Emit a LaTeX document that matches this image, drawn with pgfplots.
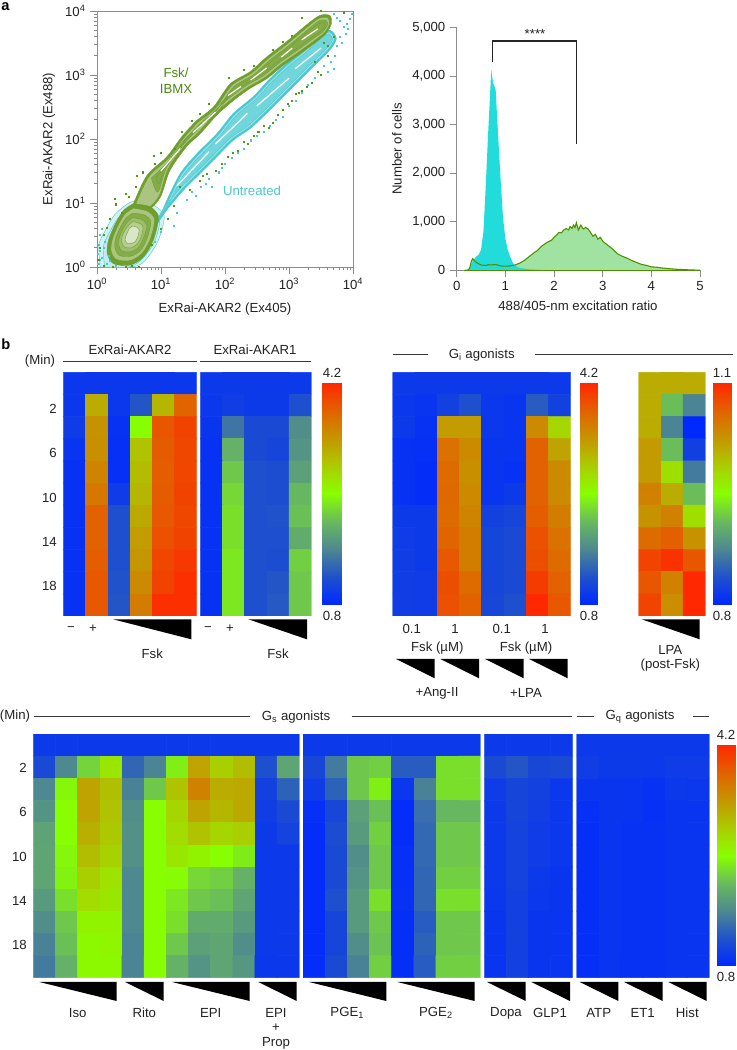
\documentclass[border=0pt]{standalone}
\usepackage{pgfplots}
\usepackage{pgfplotstable}
\usepackage{fontspec}
\setmainfont{Liberation Sans}
\pgfplotsset{compat=1.18}
\definecolor{txt}{HTML}{222222}
\definecolor{gax}{HTML}{8C8C8C}
\definecolor{gl}{HTML}{6F9E2E}
\definecolor{gf}{HTML}{84AC48}
\definecolor{gd}{HTML}{4F9A10}
\definecolor{tl}{HTML}{48C8D0}
\definecolor{tf}{HTML}{70D6DC}
\newcommand\F{\fontsize{9.9}{11}\selectfont}
\pgfplotsset{colormap={hm}{rgb255(0cm)=(0,40,255) rgb255(1.2cm)=(30,80,205) rgb255(2.5cm)=(78,136,144) rgb255(3.7cm)=(104,184,96) rgb255(5cm)=(136,255,0) rgb255(6cm)=(165,215,0) rgb255(7.5cm)=(197,150,0) rgb255(8.7cm)=(225,100,0) rgb255(10cm)=(255,40,0)}}
\pgfplotsset{
 pix/.style n args={4}{at={(#1*0.75pt,{(1050-#4)*0.75pt})},anchor=south west,scale only axis,width={(#3-#1)*0.75pt},height={(#4-#2)*0.75pt}},
 hm/.style n args={7}{pix={#1}{#2}{#3}{#4},hide axis,colormap name=hm,xmin=-0.5,xmax=#5-0.5,ymin=-0.5,ymax=10.5,y dir=reverse,point meta min=#6,point meta max=#7},
 hmp/.style={matrix plot*,mesh/cols=#1,point meta=explicit},
 cb/.style n args={6}{pix={#1}{#2}{#3}{#4},hide axis,colormap name=hm,view={0}{90},xmin=0,xmax=1,ymin=#5,ymax=#6,point meta min=#5,point meta max=#6},
 gc/.style={gl,line width=0.3pt,smooth,tension=0.5,forget plot},
 tc/.style={tl,line width=0.3pt,smooth,tension=0.5,forget plot},
 ll/.style={white,line width=0.9pt,forget plot},
}
\newcommand\T[3]{\node[font=\F,text=txt,inner sep=0pt] at (#1,#2) {#3};}
\newcommand\Tr[3]{\node[font=\F,text=txt,inner sep=0pt,anchor=east] at (#1,#2) {#3};}
\newcommand\Tri[4]{\fill[black] (#1,#3)--(#2,#3)--(#2,#4)--cycle;}
\newcommand\Hl[3]{\draw[line width=0.75pt,color=txt!90] (#1,#3)--(#2,#3);}
\begin{document}
\begin{tikzpicture}
\path[use as bounding box] (0,0) rectangle (552pt,787.5pt);
% ---------- panel a, contour plot
\def\mt{0.301,0.477,0.602,0.699,0.778,0.845,0.903,0.954,1.301,1.477,1.602,1.699,1.778,1.845,1.903,1.954,2.301,2.477,2.602,2.699,2.778,2.845,2.903,2.954,3.301,3.477,3.602,3.699,3.778,3.845,3.903,3.954}
\begin{axis}[pix={97}{11}{353}{267},xmin=0,xmax=4,ymin=0,ymax=4,
 axis line style={gax,line width=0.5pt},tick style={gax,line width=0.4pt},
 tick align=outside,xtick pos=bottom,ytick pos=left,
 major tick length=5pt,minor tick length=2.5pt,
 xtick={0,1,2,3,4},ytick={0,1,2,3,4},minor xtick=\mt,minor ytick=\mt,
 xticklabels={10\textsuperscript{0},10\textsuperscript{1},10\textsuperscript{2},10\textsuperscript{3},10\textsuperscript{4}},
 yticklabels={10\textsuperscript{0},10\textsuperscript{1},10\textsuperscript{2},10\textsuperscript{3},10\textsuperscript{4}},
 tick label style={font=\F,text=txt},clip=false,
 ]
% teal
\addplot[tc,fill=tl!25] coordinates {(0.05,0.0)(0.03,0.35)(0.12,0.55)(0.28,0.82)(0.55,1.02)(0.85,0.98)(1.05,0.80)(0.95,0.40)(0.75,0.10)(0.55,0.0)(0.05,0.0)};
\addplot[tc,fill=tl!35] coordinates {(0.12,0.0)(0.10,0.32)(0.20,0.55)(0.34,0.78)(0.55,0.96)(0.82,0.92)(0.98,0.76)(0.90,0.40)(0.70,0.12)(0.50,0.0)(0.12,0.0)};
\addplot[fill=tf!35,tc] coordinates {(1.09,1.04)(1.30,1.46)(1.56,1.77)(1.87,2.08)(2.13,2.40)(2.44,2.66)(2.70,2.94)(2.96,3.18)(3.22,3.39)(3.48,3.62)(3.64,3.70)(3.74,3.57)(3.64,3.39)(3.43,3.18)(3.17,2.92)(2.91,2.66)(2.65,2.40)(2.39,2.16)(2.13,1.98)(1.87,1.72)(1.61,1.46)(1.35,1.20)(1.09,0.89)(0.94,0.68)(1.09,1.04)};
\addplot[tc,fill=tf!70] coordinates {(1.11,1.02)(1.32,1.44)(1.58,1.75)(1.89,2.06)(2.15,2.38)(2.46,2.64)(2.72,2.92)(2.98,3.16)(3.24,3.37)(3.50,3.60)(3.63,3.67)(3.71,3.57)(3.62,3.41)(3.41,3.20)(3.15,2.94)(2.89,2.68)(2.63,2.42)(2.37,2.18)(2.11,2.00)(1.85,1.74)(1.59,1.48)(1.33,1.22)(1.07,0.91)(0.94,0.72)(1.11,1.02)};
\addplot[tc,fill=tf] coordinates {(1.13,1.00)(1.34,1.42)(1.60,1.73)(1.91,2.04)(2.17,2.36)(2.48,2.62)(2.74,2.90)(3.00,3.14)(3.26,3.35)(3.50,3.58)(3.62,3.64)(3.68,3.56)(3.60,3.43)(3.39,3.22)(3.13,2.96)(2.87,2.70)(2.61,2.44)(2.35,2.20)(2.09,2.02)(1.83,1.76)(1.57,1.50)(1.31,1.24)(1.05,0.93)(0.96,0.76)(1.13,1.00)};
\addplot[ll] coordinates {(1.25,1.27)(1.75,1.80)};
\addplot[ll] coordinates {(1.85,1.92)(2.35,2.40)};
\addplot[ll] coordinates {(2.50,2.52)(3.00,2.95)};
\addplot[ll] coordinates {(3.10,3.10)(3.50,3.42)};
\addplot[only marks,mark=square*,mark size=0.4pt,color=tl,forget plot] coordinates {(1.55,1.12)(1.75,1.38)(1.90,1.48)(2.10,1.70)(2.30,1.85)(2.50,2.05)(2.70,2.20)(2.90,2.35)(3.10,2.60)(3.30,2.85)(3.50,3.00)(3.65,3.20)(3.75,3.45)(3.80,3.60)(3.85,3.75)(3.90,3.80)(3.95,3.88)(3.75,3.90)(1.20,0.65)(1.25,0.85)(1.00,0.55)(0.90,0.40)(0.05,0.50)(0.03,0.35)(0.01,0.20)(0.08,0.15)(0.12,0.40)(0.02,0.05)(0.15,0.05)(0.30,0.02)(0.05,0.25)(0.10,0.30)(3.72,3.30)(3.60,3.05)(1.80,1.25)(1.95,1.55)(1.40,1.05)(1.48,1.18)(1.62,1.25)(1.70,1.30)(2.00,1.62)(2.20,1.78)(2.40,1.98)(2.60,2.12)(2.80,2.30)(3.00,2.52)(3.20,2.72)(3.40,2.95)(3.55,3.15)(3.70,3.10)(3.82,3.50)(3.88,3.65)(3.92,3.72)(3.80,3.85)(3.70,3.95)(3.98,3.95)(0.07,0.60)(0.04,0.12)(0.18,0.18)(0.20,0.10)};
% green
\addplot[fill=gf!40,gc] coordinates {(0.57,0.99)(0.78,1.43)(1.09,1.72)(1.32,2.03)(1.56,2.29)(1.82,2.50)(2.08,2.86)(2.39,3.05)(2.65,3.28)(2.96,3.52)(3.27,3.78)(3.48,3.93)(3.64,3.93)(3.66,3.80)(3.58,3.65)(3.43,3.52)(3.17,3.33)(2.91,3.15)(2.65,2.94)(2.39,2.79)(2.13,2.60)(1.87,2.37)(1.61,2.08)(1.40,1.88)(1.14,1.51)(0.99,1.09)(0.80,0.90)(0.57,0.99)};
\addplot[gc,fill=gf!70] coordinates {(0.60,0.97)(0.81,1.41)(1.12,1.70)(1.35,2.01)(1.59,2.27)(1.85,2.48)(2.11,2.84)(2.42,3.03)(2.68,3.26)(2.99,3.50)(3.30,3.76)(3.48,3.89)(3.61,3.89)(3.63,3.79)(3.55,3.66)(3.40,3.54)(3.14,3.35)(2.88,3.17)(2.62,2.96)(2.36,2.81)(2.10,2.62)(1.84,2.39)(1.58,2.10)(1.37,1.90)(1.11,1.53)(0.97,1.11)(0.80,0.93)(0.60,0.97)};
\addplot[gc,fill=gf] coordinates {(0.85,1.39)(1.14,1.67)(1.37,1.98)(1.61,2.24)(1.87,2.45)(2.13,2.81)(2.44,3.00)(2.70,3.23)(3.01,3.47)(3.32,3.73)(3.48,3.85)(3.58,3.85)(3.60,3.78)(3.52,3.67)(3.38,3.57)(3.12,3.38)(2.86,3.20)(2.60,2.99)(2.34,2.84)(2.08,2.65)(1.82,2.42)(1.56,2.13)(1.35,1.93)(1.09,1.56)(0.95,1.17)(0.85,1.39)};
\addplot[gc] coordinates {(0.92,1.40)(1.16,1.65)(1.39,1.96)(1.63,2.22)(1.89,2.43)(2.15,2.79)(2.46,2.98)(2.72,3.21)(3.03,3.45)(3.34,3.71)(3.48,3.81)(3.55,3.81)(3.56,3.76)(3.49,3.68)(3.36,3.59)(3.10,3.40)(2.84,3.22)(2.58,3.01)(2.32,2.86)(2.06,2.67)(1.80,2.44)(1.54,2.15)(1.33,1.95)(1.07,1.58)(0.97,1.30)(0.92,1.40)};
\addplot[ll] coordinates {(1.00,1.50)(1.30,1.85)};
\addplot[ll] coordinates {(1.50,2.10)(1.85,2.42)};
\addplot[ll] coordinates {(2.05,2.68)(2.25,2.82)};
\addplot[ll] coordinates {(2.40,2.92)(2.65,3.11)};
\addplot[ll] coordinates {(2.88,3.28)(3.05,3.42)};
\addplot[ll] coordinates {(3.20,3.55)(3.45,3.72)};
% blob
\addplot[fill=gf!45,gc] coordinates {(0.57,0.99)(0.83,0.94)(0.96,0.78)(0.88,0.42)(0.73,0.16)(0.52,0.03)(0.26,0.05)(0.16,0.21)(0.18,0.42)(0.29,0.68)(0.42,0.89)(0.57,0.99)};
\addplot[gc,fill=gf!70] coordinates {(0.57,0.92)(0.79,0.87)(0.90,0.74)(0.83,0.43)(0.70,0.21)(0.52,0.10)(0.30,0.12)(0.22,0.25)(0.24,0.43)(0.33,0.65)(0.44,0.83)(0.57,0.92)};
\addplot[gc,fill=gf] coordinates {(0.56,0.84)(0.75,0.81)(0.84,0.70)(0.78,0.44)(0.68,0.26)(0.53,0.17)(0.35,0.18)(0.28,0.30)(0.29,0.44)(0.37,0.63)(0.46,0.77)(0.56,0.84)};
\addplot[gc,fill=gf!80] coordinates {(0.56,0.77)(0.70,0.74)(0.78,0.65)(0.73,0.46)(0.65,0.31)(0.53,0.24)(0.39,0.25)(0.34,0.34)(0.35,0.46)(0.41,0.60)(0.48,0.71)(0.56,0.77)};
\addplot[gc,fill=gf!60] coordinates {(0.56,0.71)(0.67,0.68)(0.72,0.62)(0.69,0.47)(0.63,0.36)(0.54,0.30)(0.43,0.31)(0.39,0.38)(0.39,0.47)(0.44,0.58)(0.50,0.66)(0.56,0.71)};
\addplot[gc,fill=gf!30] coordinates {(0.56,0.64)(0.63,0.62)(0.66,0.58)(0.64,0.48)(0.60,0.40)(0.54,0.37)(0.47,0.37)(0.44,0.42)(0.45,0.48)(0.48,0.55)(0.51,0.61)(0.56,0.64)};
\addplot[only marks,mark=square*,mark size=0.4pt,color=gd,forget plot] coordinates {(0.45,1.15)(0.60,1.25)(0.62,1.42)(0.90,1.62)(1.00,1.78)(0.88,1.74)(1.32,2.12)(1.60,2.40)(1.75,2.55)(2.06,2.96)(2.45,3.15)(2.75,3.40)(3.20,3.90)(3.50,4.00)(3.85,3.98)(0.30,0.98)(0.38,0.85)(0.28,1.07)(0.15,0.62)(0.10,0.50)(0.05,0.30)(0.02,0.12)(0.10,0.02)(0.25,0.00)(0.45,0.01)(0.55,0.02)(0.65,0.01)(1.30,1.25)(1.60,1.35)(1.85,1.50)(2.05,1.72)(2.30,1.95)(2.45,2.05)(2.60,2.20)(2.90,2.45)(3.05,2.60)(3.20,2.75)(3.35,2.88)(3.50,3.00)(3.40,3.20)(3.60,3.30)(3.55,3.50)(1.10,0.75)(1.00,0.60)(0.85,0.35)(1.20,0.95)(1.45,1.20)(1.65,1.42)(2.20,1.82)(2.75,2.25)(3.10,2.70)(3.70,3.60)(3.60,3.45)(1.72,1.45)(1.95,1.62)(2.12,1.78)(2.35,1.92)(2.52,2.12)(2.68,2.18)(2.82,2.38)(2.98,2.55)(3.15,2.72)(3.28,2.82)(3.45,3.05)(1.22,1.85)(1.48,2.28)(2.30,3.08)(2.90,3.52)(3.05,3.62)(0.72,1.48)(0.50,1.10)(0.20,0.75)};
\end{axis}
% ---------- panel a, histogram
\begin{axis}[pix={456.7}{27.3}{700}{270.3},xmin=0,xmax=5,ymin=0,ymax=5000,
 axis x line*=bottom,axis y line*=left,axis line style={gax,line width=0.6pt,-},
 tick style={gax,line width=0.5pt},tick align=outside,major tick length=5pt,
 xtick={0,1,2,3,4,5},xticklabels={0,1,2,3,4,5},
 ytick={0,1000,2000,3000,4000,5000},yticklabels={0,{1,000},{2,000},{3,000},{4,000},{5,000}},
 tick label style={font=\F,text=txt},clip=false]
\addplot[draw=none,fill={rgb,255:red,160;green,227;blue,160},forget plot] coordinates {(0.2,0)(0.27,0)(0.30,180)(0.33,240)(0.37,190)(0.42,150)(0.50,110)(0.60,100)(0.65,115)(0.70,110)(0.80,120)(0.90,90)(1.00,85)(1.10,90)(1.20,110)(1.30,150)(1.40,210)(1.50,290)(1.60,370)(1.65,400)(1.75,500)(1.85,570)(1.95,620)(2.00,680)(2.05,720)(2.10,780)(2.15,770)(2.20,830)(2.25,860)(2.30,830)(2.33,900)(2.37,860)(2.40,930)(2.43,880)(2.46,980)(2.50,830)(2.55,930)(2.60,850)(2.65,880)(2.70,850)(2.75,780)(2.80,700)(2.85,740)(2.90,640)(2.95,680)(3.00,600)(3.05,560)(3.10,520)(3.20,440)(3.30,340)(3.40,290)(3.50,250)(3.60,200)(3.70,160)(3.80,120)(3.90,100)(4.00,70)(4.10,65)(4.20,50)(4.30,40)(4.40,30)(4.50,22)(4.70,12)(4.90,5)(5.00,0)} \closedcycle;
\addplot[draw=none,fill={rgb,255:red,34;green,220;blue,220},forget plot] coordinates {(0.15,0)(0.25,30)(0.30,120)(0.35,220)(0.40,280)(0.45,320)(0.50,420)(0.55,800)(0.60,1800)(0.65,2900)(0.68,3500)(0.71,4120)(0.75,3850)(0.80,3720)(0.85,2800)(0.90,1900)(0.95,1100)(1.00,650)(1.05,420)(1.10,280)(1.15,160)(1.20,90)(1.30,50)(1.50,20)(2.00,0)} \closedcycle;
\addplot[color={rgb,255:red,78;green,142;blue,0},line width=0.8pt,forget plot] coordinates {(0.15,0)(0.24,0)(0.27,60)(0.30,180)(0.33,240)(0.37,190)(0.42,150)(0.50,110)(0.60,100)(0.65,115)(0.70,110)(0.80,120)(0.90,90)(1.00,85)(1.10,90)(1.20,110)(1.30,150)(1.40,210)(1.50,290)(1.60,370)(1.65,400)(1.75,500)(1.85,570)(1.95,620)(2.00,680)(2.05,720)(2.10,780)(2.15,770)(2.20,830)(2.25,860)(2.30,830)(2.33,900)(2.37,860)(2.40,930)(2.43,880)(2.46,980)(2.50,830)(2.55,930)(2.60,850)(2.65,880)(2.70,850)(2.75,780)(2.80,700)(2.85,740)(2.90,640)(2.95,680)(3.00,600)(3.05,560)(3.10,520)(3.20,440)(3.30,340)(3.40,290)(3.50,250)(3.60,200)(3.70,160)(3.80,120)(3.90,100)(4.00,70)(4.10,65)(4.20,50)(4.30,40)(4.40,30)(4.50,22)(4.70,12)(4.90,5)(5.00,0)};
\addplot[color={rgb,255:red,78;green,142;blue,0},line width=0.8pt,forget plot] coordinates {(0.15,0)(5,0)};
\addplot[black!85,line width=1pt,forget plot] coordinates {(0.74,4293)(0.74,4719)(2.46,4719)(2.46,2600)};
\end{axis}
% ---------- panel b, top heatmaps
\begin{axis}[hm={63.3}{372.3}{196.7}{616}{6}{0.8}{4.2}]
\addplot[hmp=6] table[row sep=\\,header=false,x expr={mod(\coordindex,6)},y expr={floor((\coordindex+0.5)/6)},meta index=0]{
0.95\\0.95\\0.95\\0.95\\0.95\\0.95\\
0.95\\3.18\\0.95\\1.25\\3.10\\3.76\\
1.00\\3.38\\0.90\\2.50\\3.86\\4.00\\
0.92\\3.40\\0.88\\3.00\\3.82\\3.97\\
0.90\\3.50\\0.88\\3.05\\3.80\\3.98\\
0.90\\3.60\\1.00\\3.10\\3.82\\4.00\\
0.90\\3.78\\1.20\\3.20\\3.85\\3.97\\
0.90\\3.78\\1.20\\3.30\\3.90\\4.00\\
0.90\\3.80\\1.20\\3.35\\3.97\\4.08\\
0.90\\3.85\\1.22\\3.45\\4.00\\4.15\\
0.90\\3.85\\1.25\\3.55\\4.15\\4.15\\
};
\end{axis}
\begin{axis}[hm={200.3}{372.3}{311.3}{616}{5}{0.8}{4.2}]
\addplot[hmp=5] table[row sep=\\,header=false,x expr={mod(\coordindex,5)},y expr={floor((\coordindex+0.5)/5)},meta index=0]{
0.97\\0.97\\0.97\\0.97\\0.97\\
0.95\\1.02\\0.98\\0.98\\1.20\\
0.93\\1.50\\1.15\\1.15\\1.70\\
0.90\\2.00\\1.15\\1.10\\1.75\\
0.90\\2.15\\1.20\\1.18\\1.85\\
0.90\\2.25\\1.20\\1.18\\2.05\\
0.90\\2.30\\1.20\\1.22\\2.10\\
0.90\\2.30\\1.20\\1.20\\1.95\\
0.90\\2.35\\1.20\\1.18\\2.20\\
0.90\\2.35\\1.20\\1.25\\2.15\\
0.90\\2.35\\1.20\\1.28\\2.15\\
};
\end{axis}
\begin{axis}[cb={322}{383}{341.3}{604.3}{0.8}{4.2}]
\addplot3[surf,shader=interp,mesh/cols=2,point meta=explicit] coordinates {(0,0.8,0)[0.8] (1,0.8,0)[0.8] (0,4.2,0)[4.2] (1,4.2,0)[4.2]};
\end{axis}
\begin{axis}[hm={392.7}{372.3}{570.7}{616}{8}{0.8}{4.2}]
\addplot[hmp=8] table[row sep=\\,header=false,x expr={mod(\coordindex,8)},y expr={floor((\coordindex+0.5)/8)},meta index=0]{
0.97\\0.97\\0.97\\0.97\\0.97\\0.97\\0.97\\0.97\\
0.95\\0.92\\1.05\\1.20\\0.95\\0.93\\1.30\\1.05\\
0.97\\0.90\\3.30\\3.30\\0.95\\0.92\\3.45\\2.85\\
0.90\\0.88\\3.65\\3.45\\0.93\\0.92\\3.78\\3.25\\
0.90\\0.86\\3.70\\3.40\\0.92\\0.90\\3.78\\3.45\\
0.90\\0.86\\3.72\\3.45\\0.93\\0.98\\3.78\\3.45\\
0.98\\0.98\\3.70\\3.50\\1.05\\1.10\\3.80\\3.55\\
1.00\\0.98\\3.75\\3.55\\1.10\\1.15\\3.90\\3.65\\
1.02\\0.98\\3.85\\3.55\\1.10\\1.15\\3.92\\3.70\\
1.02\\1.00\\3.92\\3.70\\1.10\\1.15\\4.05\\3.78\\
1.02\\1.00\\3.90\\3.78\\1.12\\1.20\\4.20\\3.85\\
};
\end{axis}
\begin{axis}[cb={579.3}{383}{598.7}{604.3}{0.8}{4.2}]
\addplot3[surf,shader=interp,mesh/cols=2,point meta=explicit] coordinates {(0,0.8,0)[0.8] (1,0.8,0)[0.8] (0,4.2,0)[4.2] (1,4.2,0)[4.2]};
\end{axis}
\begin{axis}[hm={638.7}{372.3}{705.3}{616}{3}{0.8}{1.1}]
\addplot[hmp=3] table[row sep=\\,header=false,x expr={mod(\coordindex,3)},y expr={floor((\coordindex+0.5)/3)},meta index=0]{
1.010\\1.010\\1.010\\
1.010\\0.914\\0.872\\
1.010\\0.872\\0.800\\
1.022\\0.914\\0.821\\
1.022\\0.974\\0.866\\
1.040\\1.010\\0.914\\
1.028\\1.040\\0.974\\
1.055\\1.064\\1.028\\
1.082\\1.094\\1.070\\
1.070\\1.040\\1.100\\
1.082\\1.031\\1.100\\
};
\end{axis}
\begin{axis}[cb={712.7}{383}{732.3}{604.3}{0.8}{1.1}]
\addplot3[surf,shader=interp,mesh/cols=2,point meta=explicit] coordinates {(0,0.8,0)[0.8] (1,0.8,0)[0.8] (0,1.1,0)[1.1] (1,1.1,0)[1.1]};
\end{axis}
% ---------- bottom heatmaps
\begin{axis}[hm={33.3}{734}{299.3}{977.7}{12}{0.8}{4.2}]
\addplot[hmp=12] table[row sep=\\,header=false,x expr={mod(\coordindex,12)},y expr={floor((\coordindex+0.5)/12)},meta index=0]{
0.97\\0.97\\0.97\\0.97\\0.97\\0.97\\0.97\\0.97\\0.97\\0.97\\0.97\\0.97\\
1.14\\1.65\\2.23\\2.70\\1.38\\1.62\\2.40\\3.25\\2.90\\3.05\\1.20\\1.90\\
1.65\\2.45\\3.25\\3.02\\1.60\\2.16\\3.00\\3.52\\3.18\\3.20\\1.05\\1.35\\
1.75\\2.50\\3.25\\3.00\\1.70\\2.50\\2.85\\3.25\\3.10\\3.20\\1.02\\1.15\\
1.88\\2.50\\3.15\\2.95\\1.72\\2.50\\2.80\\3.00\\2.85\\2.90\\0.98\\1.08\\
1.90\\2.45\\3.05\\2.88\\1.72\\2.50\\2.70\\2.60\\2.50\\2.38\\0.97\\0.97\\
1.90\\2.42\\2.90\\2.75\\1.65\\2.50\\2.48\\2.25\\2.20\\2.00\\0.97\\0.97\\
1.80\\2.30\\2.80\\2.70\\1.65\\2.50\\2.35\\2.15\\2.10\\1.90\\0.97\\0.97\\
1.70\\2.15\\2.60\\2.60\\1.65\\2.50\\2.30\\1.95\\1.95\\1.80\\0.97\\0.97\\
1.60\\2.10\\2.55\\2.58\\1.62\\2.50\\2.15\\1.85\\1.90\\1.70\\0.97\\0.97\\
1.55\\2.00\\2.55\\2.55\\1.62\\2.50\\2.00\\1.75\\1.90\\1.78\\0.96\\0.96\\
};
\end{axis}
\begin{axis}[hm={303}{734}{480.3}{977.7}{8}{0.8}{4.2}]
\addplot[hmp=8] table[row sep=\\,header=false,x expr={mod(\coordindex,8)},y expr={floor((\coordindex+0.5)/8)},meta index=0]{
0.97\\0.97\\0.97\\0.97\\0.97\\0.97\\0.97\\0.97\\
1.12\\1.55\\2.15\\2.20\\1.30\\1.30\\2.30\\2.30\\
1.00\\1.35\\2.15\\2.40\\0.95\\1.60\\2.30\\2.30\\
0.88\\1.12\\1.85\\2.10\\0.85\\1.45\\2.05\\2.05\\
0.85\\1.18\\1.80\\2.20\\0.85\\1.40\\2.15\\2.15\\
0.85\\1.15\\1.70\\2.15\\0.88\\1.40\\2.15\\2.15\\
0.85\\1.15\\1.75\\2.15\\0.88\\1.38\\2.20\\2.20\\
0.85\\1.20\\1.80\\2.30\\0.90\\1.38\\2.30\\2.30\\
0.85\\1.10\\1.80\\2.15\\0.87\\1.30\\2.15\\2.15\\
0.85\\1.10\\1.70\\2.12\\0.87\\1.35\\2.15\\2.15\\
0.85\\1.15\\1.60\\2.20\\0.87\\1.30\\2.20\\2.20\\
};
\end{axis}
\begin{axis}[hm={484.3}{734}{572.7}{977.7}{4}{0.8}{4.2}]
\addplot[hmp=4] table[row sep=\\,header=false,x expr={mod(\coordindex,4)},y expr={floor((\coordindex+0.5)/4)},meta index=0]{
0.97\\0.97\\0.97\\0.97\\
1.15\\1.25\\1.12\\1.15\\
1.00\\1.10\\1.05\\0.95\\
0.97\\1.10\\1.03\\0.95\\
0.97\\1.08\\1.00\\0.95\\
0.97\\1.08\\1.00\\0.95\\
0.97\\1.08\\0.97\\0.93\\
0.95\\1.05\\0.95\\0.93\\
0.93\\1.05\\0.93\\0.92\\
0.92\\1.05\\0.93\\0.92\\
0.92\\1.05\\0.93\\0.92\\
};
\end{axis}
\begin{axis}[hm={576.7}{734}{709.3}{977.7}{6}{0.8}{4.2}]
\addplot[hmp=6] table[row sep=\\,header=false,x expr={mod(\coordindex,6)},y expr={floor((\coordindex+0.5)/6)},meta index=0]{
0.97\\0.97\\0.97\\0.97\\0.97\\0.97\\
1.02\\0.98\\0.98\\0.97\\1.00\\1.00\\
0.93\\0.93\\0.92\\0.90\\0.97\\0.95\\
0.88\\0.93\\0.92\\0.88\\0.92\\0.92\\
0.87\\0.92\\0.90\\0.90\\0.92\\0.92\\
0.87\\0.92\\0.90\\0.90\\0.92\\0.92\\
0.87\\0.92\\0.90\\0.90\\0.92\\0.92\\
0.87\\0.92\\0.90\\0.90\\0.92\\0.92\\
0.87\\0.92\\0.90\\0.90\\0.92\\0.92\\
0.87\\0.92\\0.90\\0.90\\0.92\\0.92\\
0.87\\0.92\\0.90\\0.90\\0.92\\0.92\\
};
\end{axis}
\begin{axis}[cb={716.3}{745}{735.7}{966}{0.8}{4.2}]
\addplot3[surf,shader=interp,mesh/cols=2,point meta=explicit] coordinates {(0,0.8,0)[0.8] (1,0.8,0)[0.8] (0,4.2,0)[4.2] (1,4.2,0)[4.2]};
\end{axis}
% ---------- annotations, in pixels of the reference
\begin{scope}[x=0.75pt,y=-0.75pt,shift={(0pt,787.5pt)}]
\node[font=\bfseries\fontsize{11}{11}\selectfont,anchor=west,inner sep=0pt] at (1,7) {a};
\node[font=\bfseries\fontsize{11}{11}\selectfont,anchor=west,inner sep=0pt] at (1,344) {b};
\T{225}{309}{ExRai-AKAR2 (Ex405)}
\node[font=\F,text=txt,inner sep=0pt,rotate=90] at (49,139) {ExRai-AKAR2 (Ex488)};
\node[font=\F,text=gd!90!black,inner sep=0pt] at (176,72.5) {Fsk/};
\node[font=\F,text=gd!90!black,inner sep=0pt] at (176,88.5) {IBMX};
\node[font=\F,text=tl,inner sep=0pt] at (252,191) {Untreated};
\T{578}{306}{488/405-nm excitation ratio}
\node[font=\F,text=txt,inner sep=0pt,rotate=90] at (397,149) {Number of cells};
\T{535}{34}{****}
% headers
\T{130}{350}{ExRai-AKAR2}
\T{255}{350}{ExRai-AKAR1}
\Hl{63.3}{196.7}{362}
\Hl{200.3}{311}{362}
\T{40}{361}{(Min)}
\Hl{392.7}{428}{355}
\T{481.7}{355}{G\textsubscript{i} agonists}
\Hl{535}{732.7}{355}
\foreach \y/\l in {409/2,453/6,497.5/10,541.7/14,586/18}{\Tr{57}{\y}{\l}}
\T{332}{373}{4.2}\T{332}{616}{0.8}
\T{589}{373}{4.2}\T{589}{616}{0.8}
\T{722}{373}{1.1}\T{722}{616}{0.8}
\T{71}{629}{−}\T{93}{629}{+}
\T{208}{629}{−}\T{230}{629}{+}
\Tri{113}{191.3}{619.3}{639.3}
\Tri{248.3}{307}{619.3}{639.3}
\T{152.3}{654}{Fsk}\T{278}{654}{Fsk}
\T{411.7}{629}{0.1}\T{455}{629}{1}\T{501.7}{629}{0.1}\T{545}{629}{1}
\T{437.3}{648.3}{Fsk (µM)}\T{526}{648.3}{Fsk (µM)}
\Tri{396}{434.7}{659}{678.3}
\Tri{440.3}{479}{659}{678.3}
\Tri{485}{523.7}{659}{678.3}
\Tri{529}{567.7}{659}{678.3}
\T{437}{693}{+Ang-II}\T{526}{693}{+LPA}
\Tri{641.7}{699.7}{619.3}{639.3}
\T{670.3}{650.3}{LPA}\T{670.3}{664.7}{(post-Fsk)}
% bottom
\T{15}{716}{(Min)}
\Hl{33.7}{250}{716.7}
\T{296}{717}{G\textsubscript{s} agonists}
\Hl{351.7}{572}{716.7}
\Hl{576.7}{594}{716.7}
\T{640}{717}{G\textsubscript{q} agonists}
\Hl{693}{709.3}{716.7}
\foreach \y/\l in {768/2,812.3/6,856.5/10,900.5/14,945/18}{\Tr{27}{\y}{\l}}
\T{726}{735}{4.2}\T{726}{977}{0.8}
\foreach \a/\b in {39.3/116.7,125/163.7,172/249.7,258.3/296.7,309/386.3,397.3/474.7,487/525.7,531.3/570,579.7/618.3,624/662.7,668.3/706.7}{\Tri{\a}{\b}{982}{1001}}
\T{77.7}{1013}{Iso}\T{144.3}{1013}{Rito}\T{210.7}{1013}{EPI}\T{276}{1013}{EPI}
\T{276}{1028}{+}\T{276}{1043}{Prop}
\T{347.3}{1013}{PGE\textsubscript{1}}\T{436}{1013}{PGE\textsubscript{2}}
\T{506}{1013}{Dopa}\T{550}{1013}{GLP1}\T{598.7}{1013}{ATP}\T{642.7}{1013}{ET1}\T{687.3}{1013}{Hist}
\end{scope}
\end{tikzpicture}
\end{document}
